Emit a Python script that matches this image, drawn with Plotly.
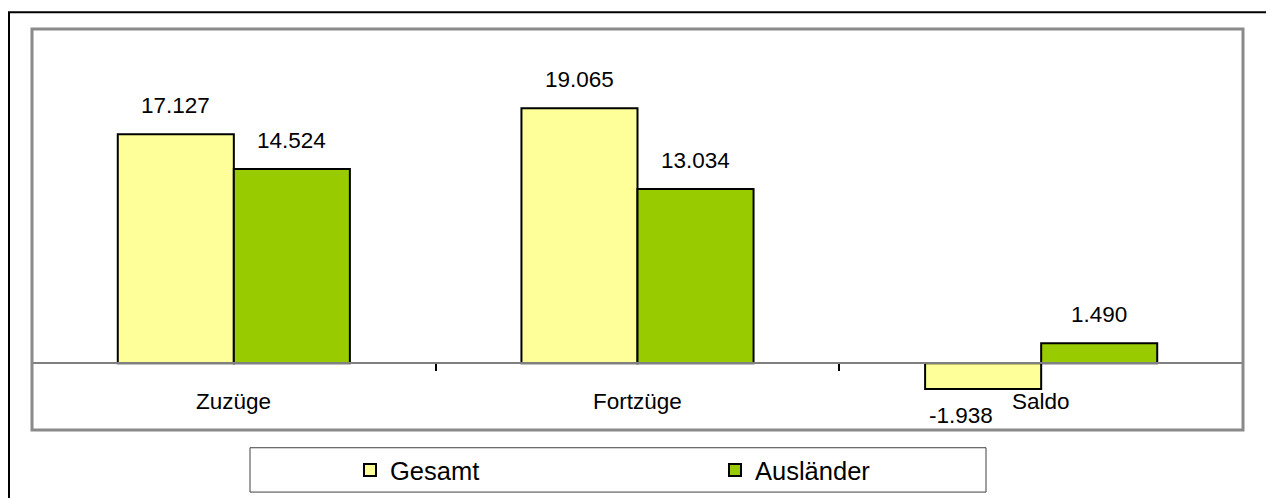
import plotly.graph_objects as go

categories = ["Zuzüge", "Fortzüge", "Saldo"]
gesamt = [17127, 19065, -1938]
auslaender = [14524, 13034, 1490]
series_names = ["Gesamt", "Ausländer"]
colors = ["#FFFF99", "#99CC00"]

FONT = "Liberation Sans, Arial, sans-serif"


def de_fmt(v):
    return f"{v:,}".replace(",", ".")


fig = go.Figure()
for name, vals, col in zip(series_names, [gesamt, auslaender], colors):
    fig.add_trace(go.Bar(
        name=name, x=categories, y=vals,
        marker=dict(color=col, line=dict(color="black", width=2)),
    ))

annotations = []
for vals, xs in [(gesamt, -58), (auslaender, 58)]:
    for c, v in zip(categories, vals):
        pos = v >= 0
        annotations.append(dict(
            x=c, y=v, xref="x", yref="y", text=de_fmt(v), showarrow=False,
            xshift=xs + (0 if pos else -22),
            yshift=14 if pos else -12,
            yanchor="bottom" if pos else "top",
            font=dict(family=FONT, size=22.5, color="black"),
        ))
for c in categories:
    annotations.append(dict(
        x=c, y=0, xref="x", yref="y", text=c, showarrow=False,
        yshift=-24, yanchor="top",
        font=dict(family=FONT, size=22.5, color="black"),
    ))

OFFX, OFFY = 8, 5  # page offset of the figure
W, H = 1274, 498
L, T = 32 - OFFX, 26 - OFFY
pw, ph = 1211, 407
R = W - L - pw
B = H - T - ph


def px_x(p):
    return (p - OFFX - L) / pw


def px_y(p):
    return (T + ph - (p - OFFY)) / ph


def fig_y(p):
    return (T + ph - p) / ph


shapes = [
    # outer frame
    dict(type="rect", xref="paper", yref="paper",
         x0=-(L - 1) / pw, x1=px_x(1300), y0=fig_y(530), y1=fig_y(4),
         line=dict(color="black", width=2), fillcolor="rgba(0,0,0,0)", layer="below"),
    # plot area frame
    dict(type="rect", xref="paper", yref="paper", x0=0, x1=1, y0=0, y1=1,
         line=dict(color="#8a8a8a", width=3), fillcolor="rgba(0,0,0,0)", layer="above"),
    # legend box
    dict(type="rect", xref="paper", yref="paper",
         x0=px_x(250), x1=px_x(986), y0=px_y(496), y1=px_y(451),
         line=dict(color="#404040", width=1), fillcolor="white", layer="below"),
]

fig.update_layout(
    width=W, height=H,
    margin=dict(l=L, r=R, t=T, b=B),
    paper_bgcolor="white", plot_bgcolor="white",
    barmode="group", bargap=0.425, bargroupgap=0,
    font=dict(family=FONT, size=22, color="black"),
    xaxis=dict(
        type="category", anchor="free", position=5000 / 30000,
        showline=True, linecolor="#808080", linewidth=2,
        ticks="outside", tickson="boundaries", ticklen=7, tickcolor="black", tickwidth=2,
        showticklabels=False, showgrid=False, zeroline=False,
    ),
    yaxis=dict(range=[-5000, 25000], visible=False, showgrid=False, zeroline=False),
    showlegend=True,
    legend=dict(
        orientation="h", x=px_x(350), xanchor="left", y=px_y(474), yanchor="middle",
        font=dict(family=FONT, size=25.5, color="black"),
        bgcolor="rgba(0,0,0,0)", entrywidth=320,
    ),
    annotations=annotations,
    shapes=shapes,
)

fig.write_html("out.html")
